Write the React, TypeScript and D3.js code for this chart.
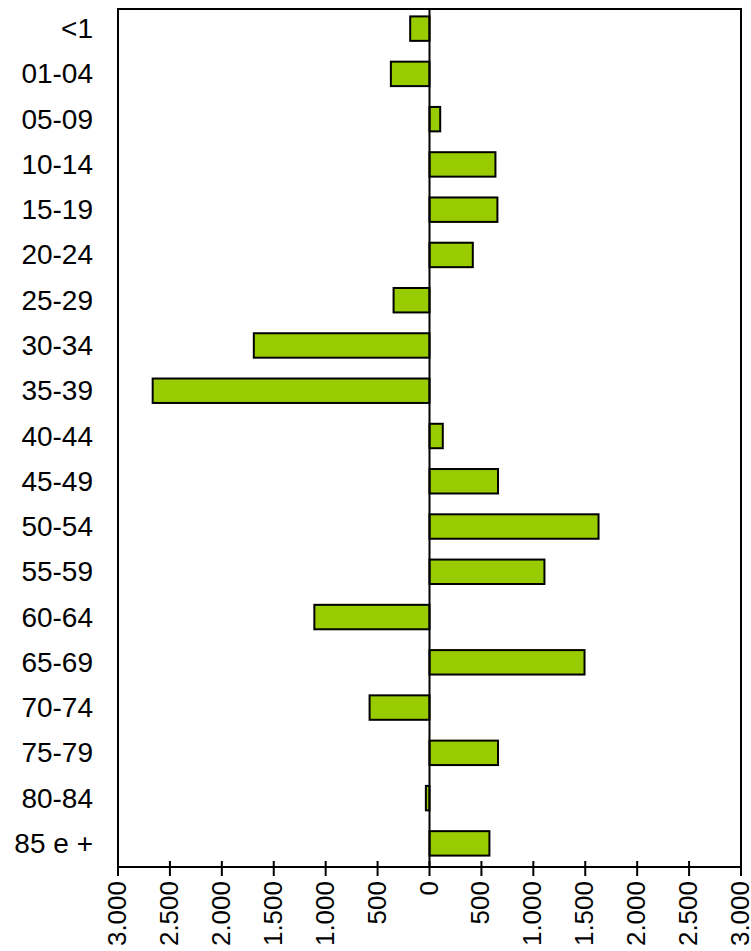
import React from "react";
import * as d3 from "d3";

const categories = ["<1", "01-04", "05-09", "10-14", "15-19", "20-24", "25-29", "30-34", "35-39", "40-44", "45-49", "50-54", "55-59", "60-64", "65-69", "70-74", "75-79", "80-84", "85 e +"];
const values = [-186, -372, 103, 635, 654, 417, -346, -1692, -2666, 128, 660, 1628, 1107, -1109, 1493, -577, 660, -35, 577];
const tickValues = [-3000, -2500, -2000, -1500, -1000, -500, 0, 500, 1000, 1500, 2000, 2500, 3000];

const W = 751;
const H = 951;
const plotLeft = 118;
const plotRight = 741;
const plotTop = 9;
const plotBottom = 867;

const fmt = (v: number) => d3.format(",")(Math.abs(v)).replace(/,/g, ".");

export default function App() {
  const x = d3.scaleLinear().domain([-3000, 3000]).range([plotLeft, plotRight]);
  const y = d3.scaleBand<string>().domain(categories).range([6, 866]).paddingInner(0.46).paddingOuter(0.23);
  const font = "'Liberation Sans', Arial, sans-serif";
  return (
    <svg width={W} height={H} style={{ position: "absolute", left: 0, top: 0, background: "#fff" }}>
      <rect x={0} y={0} width={W} height={H} fill="#fff" />
      <rect x={plotLeft} y={plotTop} width={plotRight - plotLeft} height={plotBottom - plotTop} fill="#fff" stroke="#000" strokeWidth={2} />
      {categories.map((c, i) => {
        const v = values[i];
        const x0 = x(Math.min(0, v));
        const x1 = x(Math.max(0, v));
        return (
          <rect key={c} x={x0} y={y(c)} width={Math.max(0.5, x1 - x0)} height={y.bandwidth()} fill="#99CC00" stroke="#000" strokeWidth={2} />
        );
      })}
      <line x1={x(0)} x2={x(0)} y1={plotTop} y2={plotBottom} stroke="#000" strokeWidth={2} />
      {tickValues.map((t) => (
        <line key={"t" + t} x1={x(t)} x2={x(t)} y1={plotBottom - 6} y2={plotBottom + 9} stroke="#000" strokeWidth={2} />
      ))}
      <line x1={plotLeft} x2={plotRight} y1={plotBottom} y2={plotBottom} stroke="#000" strokeWidth={2} />
      {tickValues.map((t) => (
        <text
          key={"l" + t}
          transform={`translate(${x(t) - 1},${plotBottom + 14}) rotate(-90)`}
          textAnchor="end"
          dominantBaseline="central"
          fontFamily={font}
          fontSize={26}
          fill="#000"
        >
          {fmt(t)}
        </text>
      ))}
      {categories.map((c) => (
        <text
          key={"c" + c}
          x={93}
          y={(y(c) as number) + y.bandwidth() / 2}
          textAnchor="end"
          dominantBaseline="central"
          fontFamily={font}
          fontSize={28}
          fill="#000"
        >
          {c}
        </text>
      ))}
    </svg>
  );
}
